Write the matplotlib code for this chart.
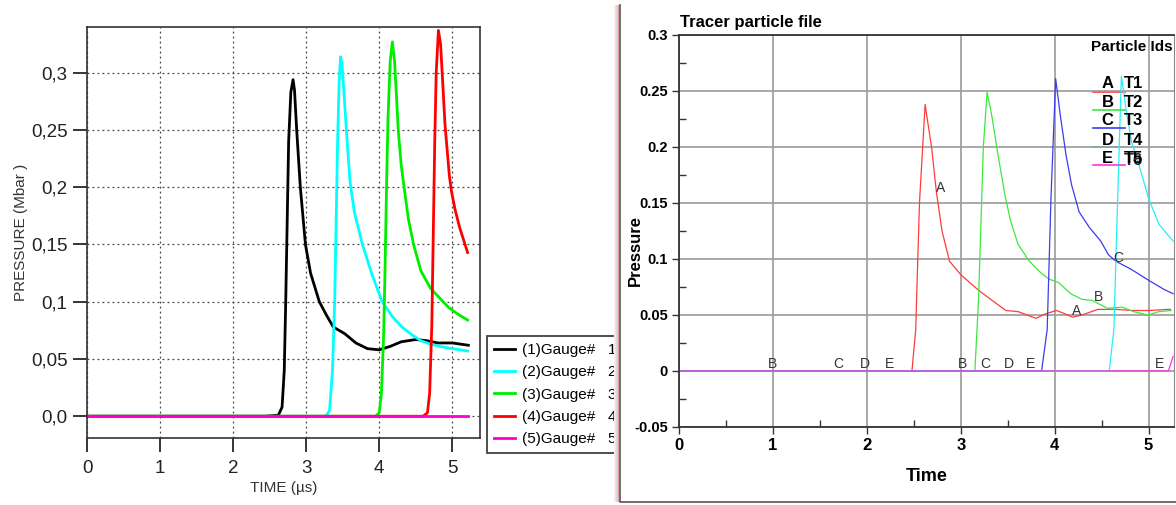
import numpy as np
import matplotlib
matplotlib.use("Agg")
import matplotlib.pyplot as plt
from matplotlib.patches import Rectangle

plt.rcParams['font.family'] = ['Liberation Sans', 'DejaVu Sans']

# ---- gauge histories (left plot), time in us, pressure in Mbar ----
g1_t = [0, 2.45, 2.62, 2.67, 2.70, 2.72, 2.74, 2.76, 2.79, 2.82, 2.84, 2.87, 2.92, 2.99,
        3.06, 3.18, 3.28, 3.37, 3.53, 3.68, 3.84, 4.0, 4.15, 4.3, 4.5, 4.65, 4.8, 5.0, 5.22]
g1_p = [0, 0, 0.001, 0.008, 0.04, 0.10, 0.17, 0.24, 0.283, 0.294, 0.285, 0.25, 0.20, 0.15,
        0.125, 0.10, 0.088, 0.078, 0.072, 0.064, 0.059, 0.058, 0.061, 0.065, 0.067, 0.066, 0.064, 0.064, 0.062]
g2_t = [0, 3.27, 3.32, 3.36, 3.39, 3.41, 3.43, 3.45, 3.47, 3.49, 3.52, 3.55, 3.60, 3.66, 3.77,
        3.90, 4.04, 4.18, 4.31, 4.45, 4.57, 4.70, 4.83, 5.0, 5.21]
g2_p = [0, 0, 0.005, 0.04, 0.10, 0.17, 0.24, 0.29, 0.314, 0.308, 0.28, 0.25, 0.205, 0.178, 0.15,
        0.124, 0.10, 0.087, 0.078, 0.071, 0.066, 0.063, 0.061, 0.059, 0.057]
g3_t = [0, 3.95, 4.0, 4.03, 4.06, 4.08, 4.10, 4.12, 4.15, 4.18, 4.21, 4.24, 4.26, 4.30, 4.34,
        4.40, 4.47, 4.57, 4.70, 4.83, 4.95, 5.08, 5.21]
g3_p = [0, 0, 0.003, 0.02, 0.07, 0.13, 0.20, 0.26, 0.31, 0.327, 0.31, 0.275, 0.25, 0.22, 0.20,
        0.172, 0.15, 0.127, 0.112, 0.103, 0.095, 0.089, 0.084]
g4_t = [0, 4.60, 4.66, 4.69, 4.72, 4.74, 4.76, 4.78, 4.81, 4.84, 4.87, 4.90, 4.92, 4.96, 4.99,
        5.04, 5.10, 5.16, 5.21]
g4_p = [0, 0, 0.003, 0.02, 0.08, 0.16, 0.24, 0.30, 0.337, 0.325, 0.29, 0.255, 0.24, 0.21, 0.196,
        0.18, 0.165, 0.153, 0.143]
g5_t = [0, 5.22]
g5_p = [0, 0]

gauge_labels = ['(1)Gauge#   1', '(2)Gauge#   2', '(3)Gauge#   3', '(4)Gauge#   4', '(5)Gauge#   5']
gauge_colors = ['#000000', '#00ffff', '#00ee00', '#ff0000', '#ff00cc']
left_yticks = [0, 0.05, 0.1, 0.15, 0.2, 0.25, 0.3]
left_ylabels = ['0,0', '0,05', '0,1', '0,15', '0,2', '0,25', '0,3']

# ---- tracer particles (right plot) ----
ta_t = [0, 2.48, 2.52, 2.56, 2.62, 2.69, 2.74, 2.80, 2.88, 3.0, 3.19, 3.35, 3.48, 3.61, 3.80,
        3.90, 4.02, 4.11, 4.19, 4.29, 4.46, 4.66, 4.82, 5.01, 5.20, 5.23]
ta_p = [0, 0, 0.037, 0.15, 0.238, 0.199, 0.160, 0.125, 0.098, 0.086, 0.072, 0.062, 0.054, 0.053, 0.047,
        0.051, 0.054, 0.051, 0.048, 0.050, 0.055, 0.055, 0.054, 0.054, 0.055, 0.055]
tb_t = [0, 3.15, 3.19, 3.24, 3.28, 3.33, 3.39, 3.47, 3.53, 3.61, 3.73, 3.86, 3.94, 4.04, 4.17,
        4.29, 4.40, 4.56, 4.72, 4.84, 4.99, 5.11, 5.24]
tb_p = [0, 0, 0.066, 0.20, 0.249, 0.228, 0.196, 0.157, 0.134, 0.113, 0.098, 0.087, 0.082, 0.079, 0.069,
        0.064, 0.063, 0.056, 0.057, 0.053, 0.050, 0.053, 0.054]
tc_t = [0, 3.86, 3.92, 3.96, 4.01, 4.06, 4.12, 4.18, 4.26, 4.37, 4.49, 4.57, 4.65, 4.81, 5.0, 5.16, 5.26]
tc_p = [0, 0, 0.037, 0.154, 0.261, 0.228, 0.193, 0.166, 0.142, 0.128, 0.116, 0.104, 0.098, 0.091, 0.081,
        0.073, 0.069]
td_t = [0, 4.58, 4.63, 4.67, 4.71, 4.76, 4.82, 4.90, 5.0, 5.11, 5.26]
td_p = [0, 0, 0.037, 0.154, 0.263, 0.233, 0.204, 0.183, 0.154, 0.131, 0.116]
te_t = [0, 5.21, 5.26]
te_p = [0, 0, 0.013]

tracer_ids = ['A', 'B', 'C', 'D', 'E']
tracer_names = ['T1', 'T2', 'T3', 'T4', 'T5']
tracer_colors = ['#ff3b3b', '#3de83d', '#3c3cf0', '#22f0f8', '#ff33dd']
right_yticks = [-0.05, 0, 0.05, 0.1, 0.15, 0.2, 0.25, 0.3]
right_ylabels = ['-0.05', '0', '0.05', '0.1', '0.15', '0.2', '0.25', '0.3']

# curve markers: (letter, time, pressure)
marks_on_curve = [('A', 2.78, 0.163), ('A', 4.23, 0.054), ('B', 4.47, 0.066), ('C', 4.68, 0.101)]
marks_on_zero = [('B', 1.0), ('C', 1.70), ('D', 1.98), ('E', 2.24), ('B', 3.02), ('C', 3.26),
                 ('D', 3.51), ('E', 3.74), ('E', 5.12)]

fig = plt.figure(figsize=(11.76, 5.05), dpi=100)

# ================= left plot =================
ax = fig.add_axes([0.0740, 0.1327, 0.3342, 0.8139])
for t, p, c, lab in zip([g1_t, g2_t, g3_t, g4_t, g5_t], [g1_p, g2_p, g3_p, g4_p, g5_p],
                        gauge_colors, gauge_labels):
    ax.plot(t, p, color=c, lw=2.0, label=lab, solid_joinstyle='round')
ax.set_xlim(0, 5.38)
ax.set_ylim(-0.019, 0.34)
ax.set_xticks([0, 1, 2, 3, 4, 5])
ax.set_yticks(left_yticks)
ax.set_yticklabels(left_ylabels)
ax.grid(True, color='#444444', lw=0.9, linestyle=(0, (1.5, 2.5)))
ax.tick_params(axis='both', direction='out', length=10, width=1.1, labelsize=13.5,
               labelcolor='#222222', pad=4)
ax.tick_params(axis='x', pad=6)
for s in ax.spines.values():
    s.set_linewidth(1.2)
    s.set_color('#333333')
ax.set_xlabel('TIME (µs)', fontsize=11, color='#333333', labelpad=3)
ax.set_ylabel('PRESSURE (Mbar )', fontsize=11, color='#333333', labelpad=2)
leg = ax.legend(loc='upper left', bbox_to_anchor=(487 / 1176, 1 - 336 / 505),
                bbox_transform=fig.transFigure, fontsize=11, frameon=True, fancybox=False,
                edgecolor='#111111', handlelength=1.4, handletextpad=0.45, labelspacing=0.55,
                borderpad=0.45, borderaxespad=0)
leg.get_frame().set_linewidth(1.3)

# ================= right window =================
for i, g in enumerate(np.linspace(0.95, 0.82, 4)):
    fig.patches.append(Rectangle(((614 + i) / 1176, 3 / 505), 1 / 1176, 497 / 505,
                                 transform=fig.transFigure, facecolor=str(g), edgecolor='none',
                                 zorder=1))
fig.patches.append(Rectangle((619 / 1176, 3 / 505), 557 / 1176, 497 / 505,
                             transform=fig.transFigure, facecolor='white', edgecolor='none',
                             zorder=1))
# window frame: left and bottom edges only
fig.lines.append(plt.Line2D([620 / 1176, 620 / 1176, 1.0], [1 - 5 / 505, 3 / 505, 3 / 505],
                            transform=fig.transFigure, color='#555555', lw=1.2, zorder=1.5))
fig.patches.append(Rectangle((617.5 / 1176, 3 / 505), 1.2 / 1176, 497 / 505,
                             transform=fig.transFigure, facecolor='#e6a0a0', edgecolor='none',
                             zorder=1))

ax2 = fig.add_axes([0.5774, 0.1545, 0.4209, 0.7762])
ax2.set_zorder(2)
for t, p, c in zip([ta_t, tb_t, tc_t, td_t, te_t], [ta_p, tb_p, tc_p, td_p, te_p], tracer_colors):
    ax2.plot(t, p, color=c, lw=0.9)
ax2.set_xlim(0, 5.27)
ax2.set_ylim(-0.05, 0.3)
ax2.set_xticks([0, 1, 2, 3, 4, 5])
ax2.set_xticks([0.5, 1.5, 2.5, 3.5, 4.5], minor=True)
ax2.set_yticks(right_yticks)
ax2.set_yticklabels(right_ylabels)
ax2.set_yticks([-0.025, 0.025, 0.075, 0.125, 0.175, 0.225, 0.275], minor=True)
ax2.grid(True, which='major', color='#9a9a9a', lw=1.2)
ax2.set_axisbelow(True)
ax2.tick_params(which='major', direction='out', length=5, width=1, color='#333333')
ax2.tick_params(which='minor', direction='in', length=5, width=1, color='#333333')
ax2.tick_params(axis='y', labelsize=10.5, pad=3)
ax2.tick_params(axis='x', labelsize=12, pad=3)
for lab in ax2.get_xticklabels() + ax2.get_yticklabels():
    lab.set_fontweight('bold')
for s in ['left', 'bottom', 'top']:
    ax2.spines[s].set_color('#333333')
    ax2.spines[s].set_linewidth(1.3)
ax2.spines['right'].set_color('#888888')
ax2.set_xlabel('Time', fontsize=13, fontweight='bold', labelpad=11)
ax2.set_ylabel('Pressure', fontsize=12, fontweight='bold')
ax2.yaxis.set_label_coords(-0.074, 0.45)

for ch, t, p in marks_on_curve:
    ax2.text(t, p, ch, fontsize=10, color='#333333', ha='center', va='center')
for ch, t in marks_on_zero:
    ax2.text(t, 0, ch, fontsize=10, color='#333333', ha='center', va='bottom')

# particle id key
ax2.text(0.832, 0.969, 'Particle Ids', transform=ax2.transAxes, fontsize=11,
         fontweight='bold', ha='left', va='center', clip_on=False)
key_rows = [0.875, 0.827, 0.781, 0.732, 0.684]
key_lines = [0.855, 0.809, 0.763, 0.714, 0.668]
for pid, name, c, yr, yl in zip(tracer_ids, tracer_names, tracer_colors, key_rows, key_lines):
    ax2.plot([0.836, 0.901], [yl, yl], transform=ax2.transAxes, color=c, lw=1.2,
             zorder=0.3 if pid in ('A', 'D') else 2)
    ax2.text(0.866, yr, pid, transform=ax2.transAxes, fontsize=12, fontweight='bold',
             ha='center', va='center')
    ax2.text(0.919, yr, name, transform=ax2.transAxes, fontsize=12, fontweight='bold',
             ha='center', va='center')
ax2.text(0.919, 0.680, 'T6', transform=ax2.transAxes, fontsize=12, fontweight='bold',
         ha='center', va='center', alpha=0.85)

fig.text(680 / 1176, 1 - 23 / 505, 'Tracer particle file', fontsize=12, fontweight='bold',
         ha='left', va='center')

fig.savefig('out.png', dpi=100)
